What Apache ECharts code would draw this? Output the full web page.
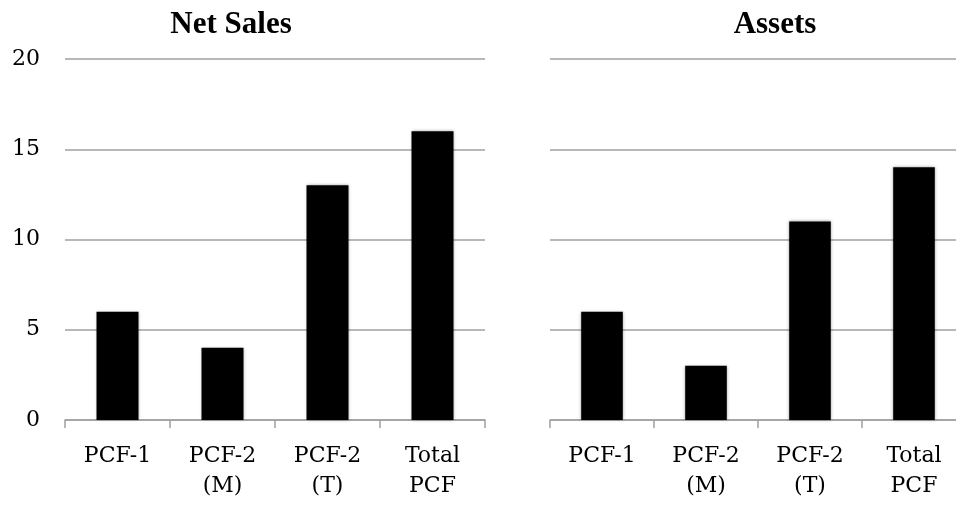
<!DOCTYPE html>
<html>
<head>
<meta charset="utf-8">
<script src="https://cdn.jsdelivr.net/npm/echarts@6/dist/echarts.min.js"></script>
<style>html,body{margin:0;padding:0;background:#fff;overflow:hidden}#c{width:970px;height:506px}</style>
</head>
<body>
<div id="c"></div>
<script>
const categories = ['PCF-1', 'PCF-2\n(M)', 'PCF-2\n(T)', 'Total\nPCF'];
const netSales = [6, 4, 13, 16];
const assets = [6, 3, 11, 14];
const titles = ['Net Sales', 'Assets'];

const chart = echarts.init(document.getElementById('c'));
const gridColor = '#a0a0a0';
const labelFont = {fontFamily: 'DejaVu Serif', fontSize: 22, color: '#000'};

function xAxis(idx) {
  return {
    type: 'category', gridIndex: idx, data: categories,
    axisLine: {lineStyle: {color: gridColor, width: 1.5}},
    axisTick: {show: true, length: 8, lineStyle: {color: gridColor, width: 1.5}},
    axisLabel: Object.assign({margin: 21, lineHeight: 30, interval: 0}, labelFont)
  };
}
function yAxis(idx, showLabels) {
  return {
    type: 'value', gridIndex: idx, min: 0, max: 20, interval: 5,
    axisLine: {show: false}, axisTick: {show: false},
    axisLabel: Object.assign({show: showLabels, margin: 25}, labelFont),
    splitLine: {lineStyle: {color: gridColor, width: 1.5}}
  };
}
const barStyle = {color: '#000', shadowColor: 'rgba(0,0,0,0.35)', shadowBlur: 3};

chart.setOption({
  animation: false,
  title: [
    {text: titles[0], left: 226, top: 4, textAlign: 'center',
     textStyle: {fontFamily: 'Liberation Serif', fontWeight: 'bold', fontSize: 31, color: '#000'}},
    {text: titles[1], left: 770, top: 4, textAlign: 'center',
     textStyle: {fontFamily: 'Liberation Serif', fontWeight: 'bold', fontSize: 31, color: '#000'}}
  ],
  grid: [
    {left: 65, width: 420, top: 59, bottom: 86},
    {left: 550, width: 416, top: 59, bottom: 86}
  ],
  xAxis: [xAxis(0), xAxis(1)],
  yAxis: [yAxis(0, true), yAxis(1, false)],
  series: [
    {type: 'bar', xAxisIndex: 0, yAxisIndex: 0, data: netSales, barWidth: '40%', itemStyle: barStyle},
    {type: 'bar', xAxisIndex: 1, yAxisIndex: 1, data: assets, barWidth: '40%', itemStyle: barStyle}
  ]
});
</script>
</body>
</html>
